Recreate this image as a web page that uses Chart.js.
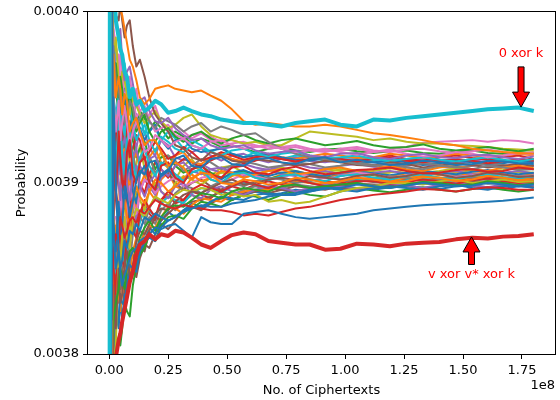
<!DOCTYPE html>
<html><head><meta charset="utf-8">
<script src="https://cdn.jsdelivr.net/npm/chart.js@4/dist/chart.umd.min.js"></script>
<style>html,body{margin:0;padding:0;background:#fff}</style>
</head><body>
<canvas id="c" width="560" height="400"></canvas>
<script>
// x positions, in units of 1e8 ciphertexts
const xSteps = [0, 0.004, 0.01, 0.018, 0.028, 0.04, 0.047, 0.055, 0.065, 0.075, 0.087, 0.1, 0.115, 0.13, 0.15, 0.17, 0.195, 0.22, 0.25, 0.28, 0.315, 0.35, 0.39, 0.43, 0.475, 0.52, 0.57, 0.62, 0.675, 0.73, 0.79, 0.85, 0.915, 0.98, 1.05, 1.12, 1.19, 1.26, 1.33, 1.4, 1.47, 1.54, 1.605, 1.67, 1.735, 1.8];
const xTicks = [0, 0.25, 0.5, 0.75, 1.0, 1.25, 1.5, 1.75];
const yTicks = [0.0038, 0.0039, 0.0040];

// probabilities, in units of 1e-6
const zeroXorK      = [3300, 4400, 4060, 4020, 3995, 3985, 3978, 3975, 3965, 3962, 3950, 3955, 3946, 3948, 3942, 3944, 3948, 3946, 3941, 3942, 3944, 3942, 3940, 3939, 3937, 3936, 3935, 3935, 3934, 3933, 3935, 3936, 3937, 3934, 3933, 3937, 3936.5, 3938, 3939, 3940, 3941, 3942, 3943, 3943.5, 3944, 3942];
const vXorVStarXorK = [3500, 3650, 3740, 3780, 3798, 3808, 3812, 3819, 3826, 3833, 3842, 3848, 3858, 3864, 3866, 3870, 3867, 3870, 3869, 3872, 3871, 3868, 3864, 3862, 3866, 3869.5, 3871, 3870, 3866, 3865, 3864, 3864, 3861, 3861.5, 3864.5, 3864, 3863, 3864.5, 3865, 3865.5, 3867, 3868, 3867.5, 3868.6, 3869, 3870];
const orangeHigh    = [4400, 4200, 4100, 4050, 4020, 4005, 4002, 3998, 3990, 3982, 3972, 3968, 3960, 3950, 3946, 3949, 3955, 3956, 3957, 3955, 3954, 3953, 3954, 3951, 3948, 3943, 3936, 3934, 3935, 3934, 3933, 3933, 3934, 3933, 3931, 3929, 3928, 3926.5, 3925, 3923, 3922, 3920, 3919, 3918, 3917.5, 3917];
const blueLow       = [3600, 3700, 3850, 3950, 3900, 3860, 3848, 3840, 3846, 3850, 3856, 3860, 3862, 3866, 3868, 3870, 3874, 3873, 3875, 3876, 3872, 3868, 3880, 3877, 3876, 3876, 3882, 3883, 3884, 3882, 3880, 3879, 3880, 3881, 3882, 3884, 3885, 3886, 3887, 3887.5, 3888, 3888.5, 3889, 3889.6, 3890.5, 3891.4];
const blueUpper     = [4200, 3400, 3900, 3870, 3850, 3860, 3850, 3855, 3866, 3862, 3872, 3870, 3876, 3872, 3880, 3878, 3882, 3880, 3878, 3880, 3883, 3885, 3887, 3886, 3886, 3888, 3889, 3890, 3892, 3893, 3894, 3896, 3897, 3897, 3899, 3898, 3897, 3898.5, 3900, 3899, 3898, 3898.5, 3900, 3899, 3898, 3899];
const redThin       = [3400, 4300, 3820, 3860, 3870, 3865, 3880, 3875, 3868, 3872, 3878, 3880, 3876, 3884, 3882, 3886, 3890, 3888, 3886, 3885, 3887, 3886, 3885, 3884, 3884, 3883, 3881, 3882, 3881, 3883, 3885, 3886, 3888, 3890, 3891.5, 3893, 3894, 3895, 3896.5, 3896, 3895, 3896.5, 3897.5, 3897, 3896, 3896];

const bandLines = [
  [4600, 3400, 4080, 3877, 3860, 3889, 3870, 3875, 3898, 3893, 3880, 3889, 3902, 3907, 3905, 3912, 3913, 3904, 3907, 3914, 3916, 3910, 3909, 3914, 3915, 3911, 3910, 3914, 3914.5, 3912, 3911, 3914, 3915, 3912, 3913.5, 3912, 3910.5, 3911, 3913, 3912, 3910.5, 3911, 3913, 3912.5, 3911.5, 3911],
  [3300, 4500, 3720, 3975, 3950, 3962, 3955, 3940, 3952, 3948, 3930, 3935, 3938, 3930, 3922, 3925, 3925, 3918, 3910, 3912, 3909, 3902, 3906, 3905, 3900, 3899, 3902, 3901, 3899, 3900, 3903, 3902, 3900, 3901, 3903, 3902, 3900.5, 3901, 3903.5, 3903, 3901, 3902, 3904, 3903, 3901.5, 3902],
  [4400, 3600, 3800, 3820, 3830, 3838, 3850, 3845, 3838, 3850, 3860, 3862, 3858, 3868, 3874, 3878, 3872, 3880, 3885, 3887, 3886, 3890, 3894, 3893, 3891, 3895, 3897, 3896, 3895, 3898, 3899, 3897, 3898, 3899, 3900, 3898, 3897, 3899, 3900.5, 3900, 3898.5, 3899, 3901, 3900, 3898.5, 3899.5],
  [3500, 4300, 3950, 3920, 3890, 3930, 3915, 3900, 3895, 3918, 3925, 3905, 3900, 3912, 3915, 3900, 3896, 3910, 3912, 3903, 3900, 3908, 3910, 3905, 3903, 3909, 3910, 3906, 3905, 3908, 3909.5, 3907, 3905, 3906, 3907.5, 3908, 3909, 3907, 3905.5, 3906, 3907.5, 3908, 3906.5, 3907, 3909, 3908],
  [4700, 3700, 4200, 4010, 3995, 3985, 3990, 3972, 3960, 3965, 3968, 3958, 3945, 3948, 3950, 3942, 3936, 3935, 3938, 3932, 3928, 3925, 3926, 3922, 3920, 3921, 3922, 3919, 3917, 3918, 3919, 3916, 3915, 3917, 3917.5, 3915, 3914, 3916, 3917, 3915, 3914.5, 3916, 3916.5, 3915, 3914, 3915.5],
  [3200, 4200, 3650, 3840, 3815, 3850, 3830, 3835, 3852, 3860, 3845, 3850, 3866, 3872, 3870, 3876, 3882, 3885, 3884, 3889, 3893, 3895, 3894, 3897, 3900, 3902, 3899, 3900, 3902, 3903, 3901.5, 3904, 3903, 3902, 3904, 3905, 3903, 3904, 3906, 3905, 3903, 3904, 3906, 3905, 3903.5, 3904],
  [4500, 3500, 4000, 3950, 3930, 3948, 3925, 3935, 3945, 3935, 3922, 3930, 3936, 3930, 3918, 3920, 3928, 3925, 3921, 3924, 3926, 3922, 3920, 3924, 3925, 3922, 3920, 3921, 3922, 3920, 3918, 3919, 3920, 3918, 3916.5, 3918, 3919, 3917, 3915.5, 3916, 3918, 3917, 3915, 3916, 3917.5, 3916.5],
  [3400, 4600, 3800, 3980, 3960, 3955, 3945, 3950, 3935, 3940, 3948, 3944, 3932, 3938, 3942, 3936, 3932, 3938, 3936, 3934, 3930, 3933, 3935, 3930, 3933, 3931, 3928, 3929, 3924, 3920, 3917, 3915, 3914, 3913, 3911, 3910, 3911, 3909, 3908, 3910, 3909.5, 3908, 3910, 3909, 3907.5, 3908],
  [4300, 3300, 3900, 3790, 3805, 3860, 3850, 3870, 3880, 3868, 3862, 3878, 3885, 3883, 3880, 3886, 3892, 3890, 3888, 3893, 3896, 3895, 3897, 3896, 3893, 3894, 3892, 3893, 3889, 3890, 3888, 3889, 3892, 3895, 3897, 3898, 3900, 3900, 3899, 3901, 3902, 3900, 3901, 3902, 3900.5, 3901],
  [3600, 4400, 3870, 3930, 3910, 3935, 3940, 3915, 3905, 3925, 3930, 3912, 3902, 3915, 3920, 3910, 3904, 3912, 3910, 3905, 3901, 3906, 3908, 3902, 3900, 3905, 3906, 3903, 3901.5, 3904, 3905, 3902, 3901, 3904, 3905, 3903, 3902, 3904, 3905, 3903, 3902, 3904, 3905, 3903.5, 3902.5, 3904],
  [3200, 4300, 3600, 3780, 3815, 3822, 3835, 3830, 3828, 3840, 3852, 3850, 3848, 3860, 3866, 3868, 3866, 3874, 3878, 3880, 3884, 3886, 3885, 3889, 3892, 3891, 3890, 3893, 3894, 3893, 3893, 3895, 3897, 3896, 3895, 3897, 3898, 3897, 3896, 3898, 3899, 3897, 3896, 3898, 3898.5, 3897],
  [4500, 3500, 4100, 3880, 3870, 3885, 3872, 3880, 3890, 3880, 3875, 3890, 3898, 3892, 3888, 3895, 3902, 3900, 3895, 3898, 3903, 3905, 3901, 3903, 3907, 3906, 3903, 3905, 3907, 3908, 3905, 3906, 3908, 3909, 3907, 3908, 3910, 3908, 3907, 3909, 3910, 3908, 3907, 3909, 3910, 3908.5],
  [3400, 4500, 3900, 3960, 3970, 3950, 3962, 3955, 3940, 3945, 3952, 3940, 3930, 3935, 3940, 3930, 3924, 3930, 3932, 3927, 3924, 3928, 3930, 3926, 3923, 3926, 3928, 3925, 3923, 3925, 3926, 3924, 3922, 3923, 3924.5, 3922, 3920.5, 3921, 3922.5, 3920, 3919, 3920, 3921, 3919.5, 3918.5, 3920],
  [4600, 3400, 3800, 3850, 3835, 3865, 3875, 3855, 3850, 3870, 3885, 3872, 3868, 3882, 3890, 3885, 3880, 3890, 3895, 3892, 3890, 3896, 3899, 3897, 3895, 3898, 3901, 3899, 3897, 3900, 3902, 3900, 3898, 3899, 3901, 3901, 3899.5, 3900.5, 3902, 3901, 3899.5, 3901.5, 3902.5, 3901, 3900, 3901],
  [3500, 4400, 3950, 3910, 3920, 3900, 3890, 3910, 3918, 3900, 3890, 3905, 3910, 3898, 3892, 3900, 3905, 3895, 3891, 3898, 3900, 3893, 3891, 3896, 3898, 3895, 3893, 3896, 3898, 3897, 3895, 3897, 3899, 3898, 3896.5, 3898, 3899.5, 3898.5, 3897, 3899, 3900, 3898.5, 3897.5, 3899, 3900, 3898.5],
  [4300, 3600, 4200, 4000, 3998, 3995, 4005, 3995, 3985, 3992, 3995, 3980, 3968, 3972, 3962, 3950, 3940, 3935, 3930, 3922, 3920, 3915, 3913, 3918, 3916, 3913, 3912, 3914, 3913, 3912, 3910, 3911, 3913, 3912, 3910.5, 3910, 3912, 3911, 3909, 3910, 3911.5, 3910.5, 3909, 3910, 3911, 3910],
  [3300, 4500, 3750, 3880, 3880, 3870, 3895, 3885, 3872, 3885, 3898, 3890, 3882, 3895, 3902, 3900, 3894, 3898, 3901, 3903, 3898, 3900, 3903, 3904, 3901, 3902, 3905, 3904, 3902, 3903, 3905.5, 3904, 3902.5, 3904, 3906, 3905, 3903, 3904, 3906, 3905, 3903.5, 3904.5, 3906, 3905, 3903.5, 3904.5],
  [4400, 3400, 3820, 3840, 3860, 3845, 3838, 3860, 3868, 3858, 3852, 3870, 3878, 3880, 3876, 3885, 3892, 3888, 3886, 3894, 3898, 3897, 3894, 3898, 3901, 3900, 3898, 3901, 3903, 3902, 3900, 3901, 3903, 3902, 3900.5, 3902, 3904, 3903, 3901, 3902, 3904, 3903, 3901.5, 3902.5, 3904, 3903],
  [3600, 4600, 4050, 3970, 3985, 3960, 3950, 3965, 3960, 3952, 3940, 3950, 3945, 3940, 3935, 3938, 3942, 3936, 3932, 3934, 3938, 3940, 3933, 3928, 3926, 3925, 3923, 3924, 3922, 3922, 3926, 3930, 3929, 3928, 3927, 3925, 3926, 3924, 3923, 3923, 3922, 3921.5, 3921, 3920, 3919.5, 3919],
  [4500, 3300, 3980, 3950, 3940, 3950, 3960, 3935, 3928, 3945, 3948, 3935, 3925, 3930, 3934, 3925, 3918, 3927, 3924, 3920, 3918, 3922, 3920, 3918, 3916, 3919, 3920, 3917, 3915.5, 3917, 3918, 3916, 3914.5, 3915, 3916, 3914, 3913, 3914, 3915, 3913.5, 3912.5, 3914, 3915, 3913.5, 3912.5, 3914],
  [3500, 4300, 3850, 3900, 3895, 3910, 3922, 3895, 3885, 3905, 3912, 3895, 3888, 3905, 3910, 3900, 3896, 3905, 3908, 3903, 3901, 3906, 3908, 3904, 3902, 3906, 3907.5, 3905, 3904, 3906, 3907, 3905, 3904, 3906, 3907, 3905.5, 3904.5, 3906, 3907, 3906, 3905, 3906.5, 3907.5, 3906, 3905, 3906],
  [4200, 3500, 3700, 3830, 3820, 3840, 3825, 3835, 3848, 3850, 3845, 3860, 3868, 3865, 3870, 3875, 3874, 3880, 3886, 3885, 3882, 3887, 3891, 3890, 3889, 3893, 3895, 3896, 3896, 3898, 3901, 3900, 3899, 3901, 3903, 3902, 3901, 3903, 3904, 3903, 3902, 3903.5, 3904.5, 3903, 3902, 3903.5],
  [3300, 4400, 3720, 3810, 3800, 3810, 3805, 3815, 3830, 3825, 3822, 3840, 3852, 3858, 3862, 3870, 3866, 3875, 3880, 3881, 3879, 3885, 3889, 3888, 3886, 3890, 3893, 3892, 3890, 3893, 3895, 3893, 3892, 3895, 3897, 3895.5, 3894.5, 3896, 3897.5, 3896, 3895, 3896.5, 3897.5, 3896, 3895, 3896],
  [4600, 3600, 4000, 3940, 3925, 3940, 3932, 3925, 3938, 3930, 3915, 3920, 3928, 3925, 3914, 3918, 3924, 3920, 3914, 3916, 3921, 3918, 3913, 3915, 3918, 3916, 3913.5, 3915, 3916, 3914, 3912.5, 3914, 3915.5, 3913.5, 3912.5, 3914, 3915, 3913, 3912, 3913, 3914, 3913, 3911.5, 3912.5, 3914, 3913],
  [3400, 4500, 3900, 3925, 3915, 3920, 3905, 3920, 3928, 3912, 3902, 3915, 3920, 3910, 3905, 3914, 3916, 3908, 3904, 3910, 3912, 3907, 3905, 3908, 3909, 3906, 3904, 3907, 3908, 3905, 3904, 3906, 3907, 3905, 3904, 3906, 3907, 3905.5, 3904.5, 3906, 3907, 3905, 3904, 3906, 3907, 3905.5],
  [4300, 3300, 3700, 3830, 3845, 3840, 3858, 3850, 3836, 3848, 3860, 3858, 3850, 3862, 3860, 3872, 3880, 3878, 3882, 3886, 3887, 3889, 3890, 3892, 3895, 3893, 3894, 3895, 3897, 3896, 3895, 3896.5, 3898, 3897, 3896, 3897, 3898.5, 3898, 3897, 3898, 3899, 3898.5, 3897.5, 3898, 3899, 3898],
  [3600, 4600, 4100, 3990, 3980, 3970, 3975, 3960, 3950, 3955, 3962, 3950, 3938, 3942, 3945, 3937, 3930, 3932, 3934, 3928, 3926, 3928, 3929, 3925, 3922, 3923, 3924, 3922, 3920, 3921, 3922, 3920, 3918.5, 3919, 3920, 3918, 3919.5, 3921, 3923.5, 3924, 3924.5, 3925, 3924, 3925, 3924.5, 3923],
  [4500, 3400, 3950, 3915, 3905, 3920, 3930, 3915, 3902, 3915, 3925, 3918, 3905, 3912, 3920, 3915, 3906, 3910, 3916, 3913, 3907, 3910, 3914, 3912, 3908, 3910, 3912.5, 3911, 3909, 3910, 3912, 3911, 3909, 3910, 3912, 3910.5, 3909, 3910, 3911.5, 3910.5, 3909, 3910, 3911.5, 3910.5, 3909, 3910],
  [3300, 4400, 3800, 3870, 3865, 3875, 3860, 3870, 3888, 3880, 3872, 3885, 3895, 3890, 3884, 3895, 3900, 3895, 3892, 3900, 3904, 3902, 3899, 3903, 3906, 3905, 3903, 3905, 3907.5, 3906, 3904.5, 3906, 3908, 3907, 3905.5, 3907, 3908.5, 3907.5, 3906, 3907, 3908.5, 3908, 3906.5, 3907.5, 3909, 3908],
  [4400, 3500, 3750, 3845, 3850, 3850, 3868, 3860, 3850, 3860, 3874, 3872, 3868, 3877, 3885, 3884, 3880, 3888, 3892, 3890, 3888, 3894, 3897, 3896, 3894, 3898, 3900, 3899, 3897.5, 3900, 3902, 3900, 3899, 3901, 3902.5, 3901, 3900, 3901.5, 3903, 3901, 3900, 3901.5, 3902.5, 3901, 3900, 3901.5],
  [3400, 4700, 4050, 3960, 3965, 3950, 3935, 3945, 3955, 3940, 3928, 3942, 3940, 3932, 3925, 3930, 3934, 3925, 3920, 3925, 3926, 3920, 3918, 3919, 3920, 3917, 3915, 3916, 3917, 3915, 3913.5, 3913, 3914.5, 3913, 3911.5, 3912, 3913.5, 3912, 3910.5, 3911.5, 3913, 3912, 3910.5, 3911.5, 3913, 3912],
  [4300, 3500, 3880, 3905, 3915, 3900, 3888, 3912, 3920, 3905, 3895, 3912, 3918, 3908, 3904, 3915, 3920, 3912, 3909, 3916, 3918, 3912, 3911, 3915, 3917, 3914, 3912.5, 3915, 3917, 3915, 3914, 3915.5, 3917, 3916, 3914.5, 3915, 3917, 3916, 3914.5, 3915.5, 3917, 3916, 3915, 3916, 3917, 3916],
  [3500, 4500, 3960, 3945, 3930, 3940, 3950, 3930, 3920, 3930, 3936, 3925, 3915, 3920, 3924, 3915, 3908, 3915, 3916, 3910, 3906, 3908, 3910, 3906, 3903, 3905, 3907, 3905, 3902.5, 3904, 3906, 3905, 3903, 3904, 3906, 3904.5, 3903, 3904, 3906, 3905, 3903.5, 3904.5, 3906, 3905, 3903.5, 3904.5],
  [4400, 3300, 3850, 3880, 3895, 3885, 3872, 3895, 3905, 3890, 3882, 3898, 3906, 3900, 3894, 3905, 3912, 3908, 3903, 3910, 3914, 3912, 3909, 3913, 3916, 3914, 3911.5, 3913, 3915, 3914, 3912.5, 3914, 3915.5, 3914, 3912.5, 3914.5, 3916, 3914, 3913, 3915, 3916, 3914.5, 3913.5, 3915, 3916, 3914],
  [3300, 4600, 3780, 3860, 3875, 3865, 3885, 3878, 3866, 3880, 3892, 3885, 3878, 3895, 3902, 3898, 3893, 3903, 3907, 3905, 3902, 3908, 3911, 3908, 3906, 3909, 3911, 3909, 3907.5, 3910, 3911, 3909, 3908, 3910, 3911, 3909.5, 3908.5, 3910, 3911, 3909.5, 3908.5, 3910, 3911, 3909.5, 3908.5, 3910],
  [4500, 3500, 3950, 3935, 3920, 3930, 3940, 3915, 3908, 3925, 3928, 3915, 3904, 3912, 3915, 3905, 3898, 3905, 3906, 3900, 3896, 3900, 3902, 3898, 3896, 3899, 3901, 3899, 3897.5, 3900, 3902, 3900, 3898.5, 3901, 3902, 3900.5, 3899.5, 3901, 3902.5, 3901, 3900, 3901, 3902.5, 3901.5, 3900, 3901],
  [4400, 3300, 3900, 3990, 3950, 3975, 3960, 3950, 3965, 3955, 3940, 3948, 3955, 3940, 3935, 3940, 3945, 3935, 3930, 3934, 3930, 3926, 3929, 3927, 3924, 3925, 3923, 3921, 3922, 3920, 3921, 3919, 3918, 3920, 3921, 3919, 3918, 3919.5, 3920, 3918.5, 3917.5, 3918.5, 3919.5, 3918, 3917, 3918],
  [3300, 4500, 3750, 3850, 3870, 3840, 3855, 3875, 3862, 3850, 3866, 3878, 3870, 3862, 3874, 3880, 3876, 3884, 3888, 3884, 3889, 3893, 3890, 3892, 3895, 3893, 3896, 3898, 3896, 3897, 3899, 3898, 3897, 3899, 3900, 3898.5, 3899, 3900.5, 3899.5, 3899, 3900.5, 3901, 3899.5, 3900, 3901, 3900],
  [4500, 3500, 4000, 3900, 3940, 3925, 3905, 3895, 3920, 3930, 3910, 3898, 3912, 3922, 3908, 3900, 3912, 3918, 3908, 3902, 3910, 3914, 3906, 3904, 3909, 3910, 3906, 3904, 3907, 3909, 3907, 3905, 3906, 3908, 3907, 3905.5, 3906, 3907.5, 3906.5, 3905, 3906, 3907.5, 3906.5, 3905.5, 3906.5, 3906],
  [3400, 4600, 3850, 3950, 3980, 3965, 3945, 3955, 3970, 3960, 3945, 3935, 3948, 3940, 3928, 3936, 3932, 3925, 3930, 3926, 3920, 3925, 3922, 3918, 3921, 3917, 3915, 3918, 3916, 3914, 3916, 3915, 3913, 3914.5, 3915, 3913, 3912, 3914, 3915, 3913.5, 3912.5, 3914, 3914.5, 3913, 3912, 3913],
  [4300, 3400, 3700, 3800, 3825, 3815, 3832, 3820, 3835, 3848, 3840, 3852, 3862, 3858, 3866, 3874, 3870, 3878, 3883, 3880, 3884, 3888, 3886, 3889, 3892, 3890, 3893, 3895, 3893, 3894, 3896, 3895, 3896.5, 3898, 3897, 3896, 3897.5, 3898.5, 3897, 3896.5, 3898, 3898.5, 3897, 3896.5, 3898, 3897.5],
  [3500, 4500, 4050, 3870, 3850, 3880, 3900, 3885, 3870, 3890, 3905, 3895, 3885, 3898, 3905, 3895, 3890, 3902, 3906, 3898, 3896, 3903, 3906, 3902, 3900, 3904, 3906, 3903, 3902, 3905, 3906, 3904, 3903, 3905, 3906.5, 3905, 3904, 3905.5, 3906, 3904.5, 3904, 3905.5, 3906, 3904.5, 3904, 3905],
  [4600, 3500, 3950, 3975, 3955, 3940, 3958, 3965, 3948, 3940, 3952, 3944, 3935, 3942, 3938, 3930, 3936, 3932, 3926, 3930, 3927, 3923, 3926, 3924, 3921, 3922, 3920, 3918, 3920, 3921, 3919, 3918, 3919.5, 3920, 3918.5, 3917.5, 3918.5, 3919, 3917.5, 3917, 3918.5, 3919, 3917.5, 3917, 3918, 3917.5],
  [3400, 4400, 3800, 3860, 3840, 3870, 3880, 3862, 3855, 3870, 3882, 3875, 3868, 3880, 3888, 3882, 3878, 3890, 3893, 3888, 3890, 3895, 3893, 3891, 3896, 3898, 3896, 3899, 3901, 3899, 3900, 3902, 3901, 3900, 3902, 3903, 3901.5, 3902, 3903.5, 3902, 3901.5, 3903, 3903.5, 3902, 3901.5, 3902.5],
  [4500, 3300, 3850, 3940, 3910, 3935, 3950, 3930, 3918, 3938, 3945, 3930, 3920, 3932, 3930, 3920, 3916, 3925, 3922, 3915, 3913, 3918, 3920, 3916, 3913, 3916, 3917, 3914, 3912, 3914, 3915, 3913, 3912, 3913.5, 3914, 3912, 3911.5, 3913, 3914, 3912.5, 3911.5, 3913, 3914, 3912.5, 3911.5, 3912.5],
  [3300, 4400, 3700, 3820, 3835, 3830, 3845, 3838, 3830, 3845, 3855, 3850, 3845, 3856, 3864, 3862, 3870, 3876, 3873, 3878, 3884, 3886, 3884, 3888, 3891, 3890, 3893, 3895, 3894, 3896, 3898, 3897, 3896, 3898, 3899.5, 3899, 3898, 3899.5, 3900.5, 3899.5, 3899, 3900, 3901, 3900, 3899, 3900]
];

const palette = ['#1f77b4', '#ff7f0e', '#2ca02c', '#d62728', '#9467bd', '#8c564b', '#e377c2', '#7f7f7f', '#bcbd22', '#17becf'];

const annotations = [
  { label: '0 xor k', x: 1.746, textY: 0.0039753, tailY: 0.0039678, tipY: 0.0039443 },
  { label: 'v xor v* xor k', x: 1.536, textY: 0.0038466, tailY: 0.0038523, tipY: 0.0038684 }
];

function toPoints(arr) { return xSteps.map((x, i) => ({ x: x, y: arr[i] / 1e6 })); }

const datasets = [];
datasets.push({ data: toPoints(zeroXorK), borderColor: '#17becf', borderWidth: 4 });
datasets.push({ data: toPoints(vXorVStarXorK), borderColor: '#d62728', borderWidth: 4 });
datasets.push({ data: toPoints(orangeHigh), borderColor: '#ff7f0e', borderWidth: 2 });
datasets.push({ data: toPoints(blueLow), borderColor: '#1f77b4', borderWidth: 2 });
datasets.push({ data: toPoints(blueUpper), borderColor: '#1f77b4', borderWidth: 2 });
datasets.push({ data: toPoints(redThin), borderColor: '#d62728', borderWidth: 2 });
bandLines.forEach((arr, i) => {
  datasets.push({ data: toPoints(arr), borderColor: palette[i % 10], borderWidth: 2 });
});
datasets.forEach(d => { d.pointRadius = 0; d.fill = false; d.tension = 0; d.clip = 0; d.borderJoinStyle = 'round'; });

const FONT = "'DejaVu Sans', sans-serif";

function drawArrow(ctx, x0, y0, x1, y1) {
  const ang = Math.atan2(y1 - y0, x1 - x0), len = Math.hypot(x1 - x0, y1 - y0);
  const hl = 15, hw = 8.5, sw = 3;
  ctx.save();
  ctx.translate(x0, y0); ctx.rotate(ang);
  ctx.beginPath();
  ctx.moveTo(0, -sw); ctx.lineTo(len - hl, -sw); ctx.lineTo(len - hl, -hw);
  ctx.lineTo(len, 0); ctx.lineTo(len - hl, hw); ctx.lineTo(len - hl, sw); ctx.lineTo(0, sw);
  ctx.closePath();
  ctx.fillStyle = '#ff0000'; ctx.fill();
  ctx.strokeStyle = '#000'; ctx.lineWidth = 1; ctx.stroke();
  ctx.restore();
}

const extras = {
  id: 'extras',
  afterDatasetsDraw(chart) {
    const { ctx, chartArea: a, scales: { x, y } } = chart;
    ctx.save();
    ctx.strokeStyle = '#000'; ctx.lineWidth = 1;
    ctx.strokeRect(Math.round(a.left) - 0.5, Math.round(a.top) - 0.5, Math.round(a.right - a.left) + 1, Math.round(a.bottom - a.top) + 1);
    annotations.forEach(an => {
      const px = x.getPixelForValue(an.x);
      drawArrow(ctx, px, y.getPixelForValue(an.tailY), px, y.getPixelForValue(an.tipY));
      ctx.fillStyle = '#ff0000';
      ctx.font = '13px ' + FONT;
      ctx.textAlign = 'center'; ctx.textBaseline = 'middle';
      ctx.fillText(an.label, px, y.getPixelForValue(an.textY));
    });
    ctx.fillStyle = '#000';
    ctx.font = '13px ' + FONT;
    ctx.textAlign = 'right'; ctx.textBaseline = 'middle';
    ctx.fillText('1e8', a.right, 386);
    ctx.restore();
  }
};

new Chart(document.getElementById('c'), {
  type: 'line',
  data: { datasets },
  options: {
    responsive: false,
    animation: false,
    events: [],
    layout: { padding: { top: 6, right: 5, left: 0, bottom: 0 } },
    plugins: { legend: { display: false }, tooltip: { enabled: false } },
    scales: {
      x: {
        type: 'linear', min: -0.09, max: 1.89,
        afterBuildTicks: s => { s.ticks = xTicks.map(v => ({ value: v })); },
        afterFit: s => { s.height = 46; },
        ticks: { callback: v => v.toFixed(2), color: '#000', font: { family: FONT, size: 13 }, autoSkip: false, maxRotation: 0, padding: 4 },
        grid: { drawOnChartArea: false, drawTicks: true, tickLength: 5, color: '#000' },
        border: { display: false },
        title: { display: true, text: 'No. of Ciphertexts', color: '#000', font: { family: FONT, size: 13 }, padding: { top: 0, bottom: 2 } }
      },
      y: {
        type: 'linear', min: 0.0038, max: 0.0040,
        afterBuildTicks: s => { s.ticks = yTicks.map(v => ({ value: v })); },
        afterFit: s => { s.width = 88; },
        ticks: { callback: v => v.toFixed(4), color: '#000', font: { family: FONT, size: 13 }, padding: 4 },
        grid: { drawOnChartArea: false, drawTicks: true, tickLength: 5, color: '#000' },
        border: { display: false },
        title: { display: true, text: 'Probability', color: '#000', font: { family: FONT, size: 13 }, padding: { top: 14, bottom: 0 } }
      }
    }
  },
  plugins: [extras]
});
</script>
</body></html>
